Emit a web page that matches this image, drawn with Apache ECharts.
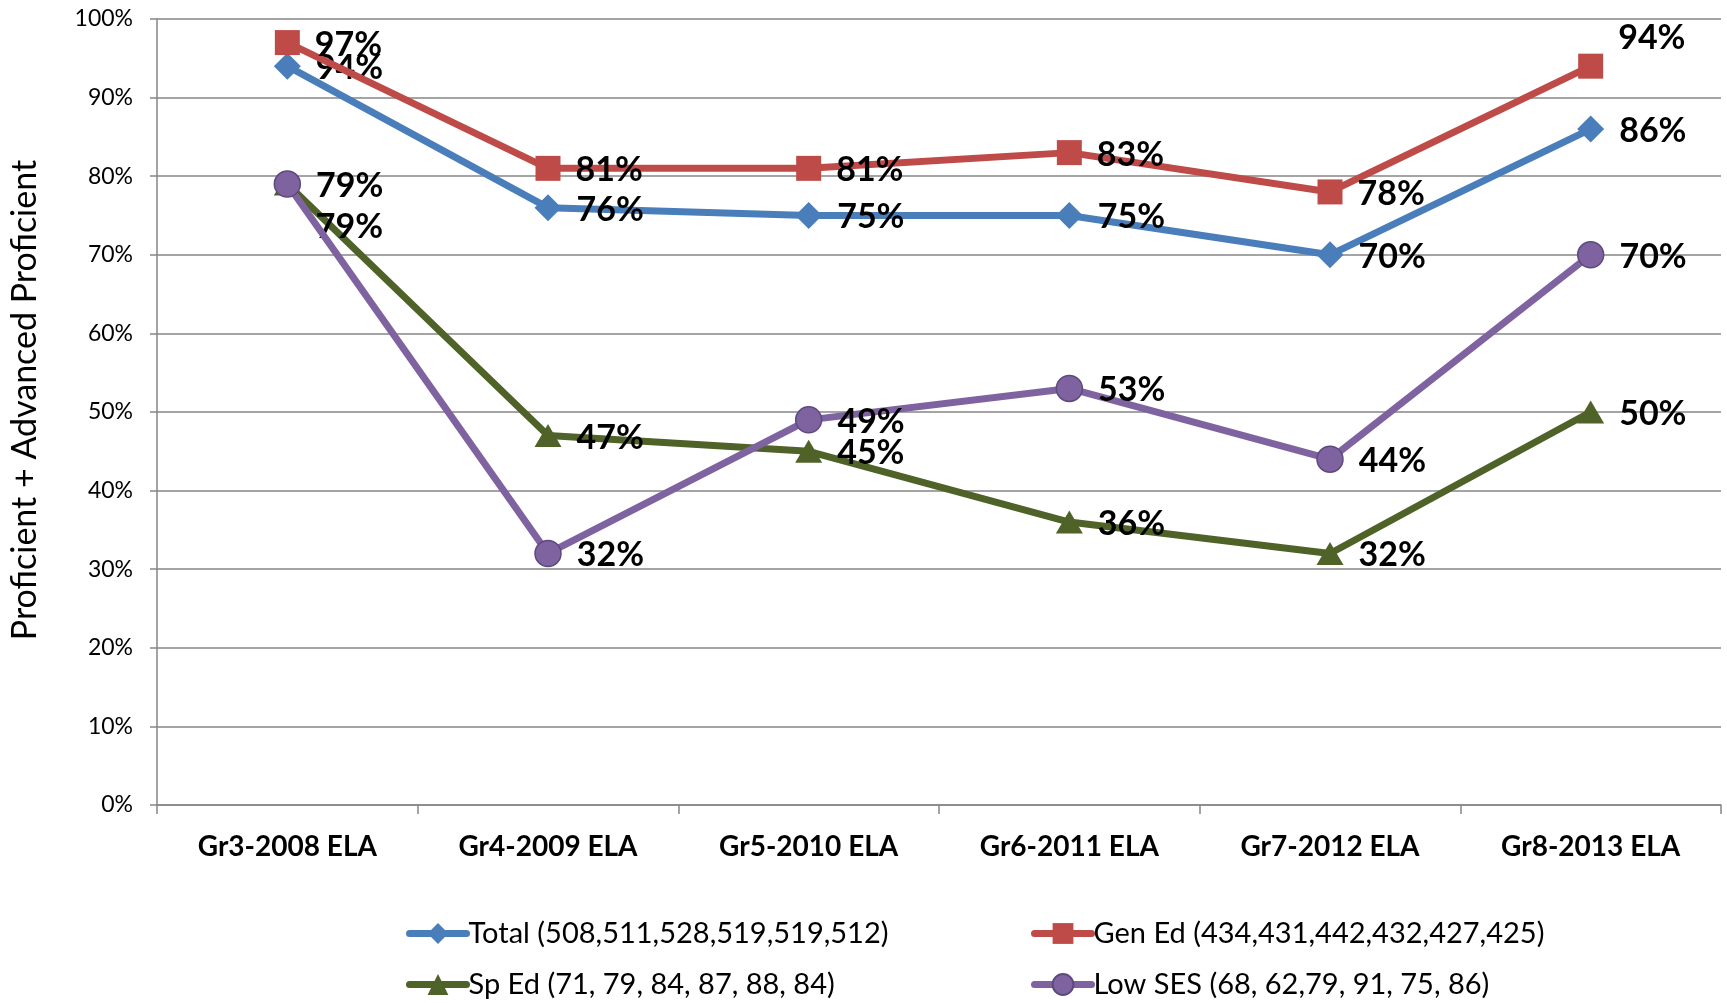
<!DOCTYPE html>
<html>
<head>
<meta charset="utf-8">
<script src="https://cdn.jsdelivr.net/npm/echarts@6/dist/echarts.min.js"></script>
<style>
html,body{margin:0;padding:0;background:#fff;}
#chart{width:1727px;height:1003px;}
</style>
</head>
<body>
<div id="chart"></div>
<script>
// ---- data ----
var categories = ['Gr3-2008 ELA','Gr4-2009 ELA','Gr5-2010 ELA','Gr6-2011 ELA','Gr7-2012 ELA','Gr8-2013 ELA'];
var seriesNames = ['Total (508,511,528,519,519,512)','Gen Ed (434,431,442,432,427,425)','Sp Ed (71, 79, 84, 87, 88, 84)','Low SES (68, 62,79, 91, 75, 86)'];
var totalValues = [94, 76, 75, 75, 70, 86];
var genEdValues = [97, 81, 81, 83, 78, 94];
var spEdValues  = [79, 47, 45, 36, 32, 50];
var lowSesValues = [79, 32, 49, 53, 44, 70];
var yTicks = [0,10,20,30,40,50,60,70,80,90,100];
var yAxisTitle = 'Proficient + Advanced Proficient';

// ---- styling ----
var FONT = 'Lato';
var colors = ['#4A7EBB','#BE4B48','#4F6228','#7F63A1'];
var symbols = ['diamond','rect','triangle','circle'];
var symbolSizes = [[27,27],[25,25],[27,23],[26,26]];
var borderColors = ['#4A7EBB','#BE4B48','#4F6228','#5C4A7D'];
// per-point label shifts (styling only): [seriesIdx-pointIdx] -> [dx,dy]
var labelShift = {'2-0':[0,41], '1-5':[0,-30]};

var allValues = [totalValues, genEdValues, spEdValues, lowSesValues];

function buildData(si, vals){
  return vals.map(function(v, i){
    var item = {value: v};
    var sh = labelShift[si+'-'+i];
    if (sh) item.label = {offset: [sh[0], 2 + sh[1]]};
    return item;
  });
}

var series = allValues.map(function(vals, si){
  return {
    name: seriesNames[si],
    type: 'line',
    data: buildData(si, vals),
    symbol: symbols[si],
    symbolSize: symbolSizes[si],
    lineStyle: {color: colors[si], width: 7},
    itemStyle: {color: colors[si], borderColor: borderColors[si], borderWidth: si===3?1.5:0},
    z: 2 + si,
    animation: false,
    label: {
      show: true,
      position: 'right',
      distance: 15,
      offset: [0, 2],
      formatter: '{c}%',
      fontFamily: FONT,
      fontWeight: 'bold',
      fontSize: 34,
      color: '#000'
    },
    emphasis: {disabled: true}
  };
});

var legendPos = [[406, 934],[1031, 934],[406, 985],[1031, 985]];
var legends = seriesNames.map(function(n, i){
  return {
    data: [n],
    left: legendPos[i][0],
    top: legendPos[i][1] - 15,
    itemWidth: 57,
    itemHeight: 26,
    itemGap: 0,
    padding: 0,
    lineStyle: {width: 7, cap: 'round'},
    textStyle: {fontFamily: FONT, fontSize: 29, color: '#000', padding: [0,0,0,-3]},
    selectedMode: false
  };
});

var chart = echarts.init(document.getElementById('chart'), null, {renderer: 'canvas'});
chart.setOption({
  backgroundColor: '#fff',
  animation: false,
  textStyle: {fontFamily: FONT},
  grid: {left: 155, right: 6, top: 19, bottom: 198, containLabel: false},
  legend: legends,
  xAxis: {
    type: 'category',
    data: categories,
    boundaryGap: true,
    axisLine: {lineStyle: {color: '#868686', width: 1.5}},
    axisTick: {show: true, length: 9, lineStyle: {color: '#868686', width: 1.5}},
    axisLabel: {margin: 28, fontFamily: FONT, fontWeight: 'bold', fontSize: 28, color: '#000'},
    splitLine: {show: false}
  },
  yAxis: {
    type: 'value',
    min: yTicks[0],
    max: yTicks[yTicks.length-1],
    interval: yTicks[1]-yTicks[0],
    name: yAxisTitle,
    nameLocation: 'middle',
    nameRotate: 90,
    nameGap: 115,
    nameTextStyle: {fontFamily: FONT, fontSize: 34, color: '#000', padding: [0,0,0,24]},
    axisLine: {show: true, lineStyle: {color: '#868686', width: 1.5}},
    axisTick: {show: true, length: 7, lineStyle: {color: '#868686', width: 1.5}},
    axisLabel: {margin: 24, formatter: '{value}%', fontFamily: FONT, fontSize: 23, color: '#000'},
    splitLine: {show: true, lineStyle: {color: '#868686', width: 1.5}}
  },
  series: series
});
</script>
</body>
</html>
